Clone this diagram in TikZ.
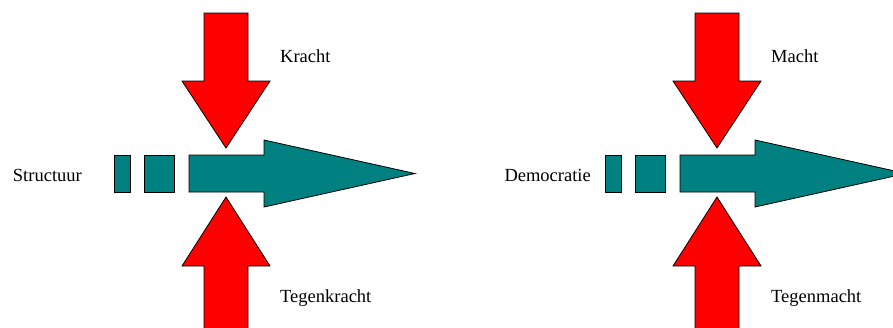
\documentclass[tikz,border=0pt]{standalone}
\usepackage{fontspec}
\setmainfont{Liberation Serif}
\begin{document}
\begin{tikzpicture}[x=1pt,y=-1pt,
  redarrow/.style={fill={rgb,255:red,255;green,0;blue,0},draw=black,line width=0.8pt,line join=miter},
  tealshape/.style={fill={rgb,255:red,0;green,128;blue,128},draw=black,line width=0.8pt,line join=miter},
  lbl/.style={font=\fontsize{18.5}{20}\selectfont,inner sep=0pt}]
\useasboundingbox (0,0) rectangle (893,327);
\clip (0,0) rectangle (893,327);
\foreach \dx/\name/\nx/\top/\bot/\tag in {0/Structuur/82/Kracht/Tegenkracht/L, 491/Democratie/100/Macht/Tegenmacht/R}{
  \begin{scope}[xshift=\dx pt]
    % red arrow pointing down
    \draw[redarrow] (204,13) -- (248,13) -- (248,81) -- (270,81) -- (226,148) -- (182,81) -- (204,81) -- cycle;
    % red arrow pointing up
    \draw[redarrow] (204,332) -- (204,266) -- (182,266) -- (226,197) -- (270,266) -- (248,266) -- (248,332);
    % teal dashed arrow
    \draw[tealshape] (114,155) rectangle (130,192);
    \draw[tealshape] (144,155) rectangle (174,192);
    \draw[tealshape] (189,155) -- (264,155) -- (264,140) -- (415,173.5) -- (264,207) -- (264,192) -- (189,192) -- cycle;
    \node[lbl,anchor=base east] (main\tag) at (\nx,181) {\name};
    \node[lbl,anchor=base west] (top\tag) at (280,62) {\top};
    \node[lbl,anchor=base west] (bot\tag) at (280,302) {\bot};
  \end{scope}
}
\end{tikzpicture}
\end{document}
